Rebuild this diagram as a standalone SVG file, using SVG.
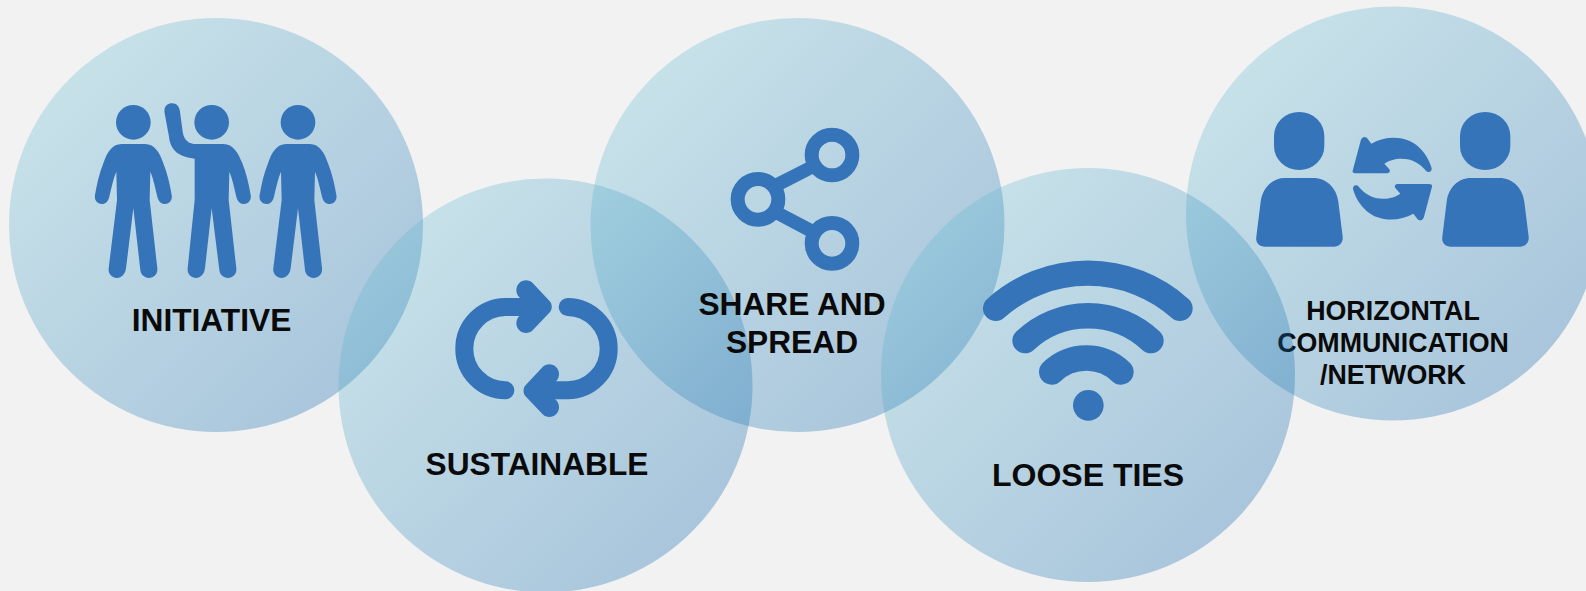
<svg xmlns="http://www.w3.org/2000/svg" width="1586" height="591" viewBox="0 0 1586 591">
<defs>
<linearGradient id="g" x1="0.15" y1="0.15" x2="0.85" y2="0.85"><stop offset="0" stop-color="#5fb9d1"/><stop offset="1" stop-color="#035fa9"/></linearGradient>
<path id="person" d="M125,162H195C225,162 240,190 250,220C262,250 270,285 275,315C278,330 268,342 255,342C243,342 235,333 232,320C226,295 220,265 211,245L209,330L232,535C234,552 222,564 207,564C193,564 182,553 181,540L160,355L138,535C136,552 125,564 111,564C96,564 84,552 86,535L111,330L109,245C100,265 94,295 88,320C85,333 77,342 66,342C52,342 42,330 45,315C50,285 58,250 70,220C80,190 95,162 125,162Z"/>
<g id="user"><rect x="132" y="36" width="151" height="174" rx="75" ry="72"/><path d="M165,234H250C290,234 320,265 325,305L338,410C340,428 328,440 312,440H105C88,440 76,428 79,410L92,305C97,265 125,234 165,234Z"/></g>
<path id="swap" d="M368,212L392,122C396,108 408,108 414,118L424,131C470,105 530,108 565,140C585,158 598,180 605,205C606,215 595,220 588,212C570,190 545,176 515,176C495,176 475,182 463,191L478,208C482,214 478,220 470,220H378C370,220 366,216 368,212Z"/>
<path id="head" d="M238,39C248,28 268,28 278,39L328,92C338,102 338,118 328,128L278,181C268,192 248,192 238,181C226,170 226,150 238,138L266,110L238,82C226,70 226,50 238,39Z"/>
</defs>
<style>
.disc{fill:url(#g);fill-opacity:.3}
.icon{fill:#3574b9}
.line{fill:none;stroke:#3574b9;stroke-linecap:round}
.ring{fill:none;stroke:#3574b9;stroke-width:14}
text{font-family:"Liberation Sans",Arial,sans-serif;font-weight:700;fill:#0a0a0a;text-anchor:middle}
</style>
<rect width="1586" height="591" fill="#f2f2f2"/>
<g id="connectors"/>
<g id="horizontal">
<circle class="disc" cx="1393" cy="213.500" r="207"/>
<g class="icon" transform="translate(1230,100) scale(.33333)"><use href="#user"/><use href="#user" x="558"/><use href="#swap"/><use href="#swap" transform="rotate(180 487 236)"/></g>
<text font-size="26.800" x="1393" y="320">HORIZONTAL</text>
<text font-size="26.800" x="1393" y="352">COMMUNICATION</text>
<text font-size="26.800" x="1393" y="384">/NETWORK</text>
</g>
<g id="initiative">
<circle class="disc" cx="216" cy="225" r="207"/>
<g class="icon" transform="translate(80,90) scale(.33333)">
<circle cx="160" cy="97" r="52"/><use href="#person"/>
<circle cx="395" cy="97" r="52"/>
<path d="M344,206C300,200 272,185 267,140L254,70C250,50 262,40 276,40C290,40 298,50 300,65L308,125C312,150 325,162 350,162H430C460,162 475,190 487,220C499,250 507,285 512,315C515,330 505,342 492,342C480,342 472,333 469,320C463,295 457,265 448,245L446,330L469,535C471,552 459,564 444,564C430,564 419,553 418,540L395,355L375,535C373,552 362,564 348,564C333,564 321,552 323,535L344,330Z"/>
<circle cx="654" cy="97" r="52"/><use href="#person" x="494"/>
</g>
<text font-size="31.700" x="211.500" y="331">INITIATIVE</text>
</g>
<g id="sustainable">
<circle class="disc" cx="545.500" cy="385.500" r="207"/>
<path class="line" stroke-width="18" d="M505.330,390.330A41.670,41.670 0 0 1 505.330,307H533.330M567.670,307A41.670,41.670 0 0 1 567.670,390.330H540"/>
<g transform="translate(440,270) scale(.33333)"><use class="icon" href="#head"/><use class="icon" href="#head" transform="rotate(180 293 236)"/></g>
<text font-size="31.700" x="537" y="475">SUSTAINABLE</text>
</g>
<g id="share">
<circle class="disc" cx="797.500" cy="225" r="207"/>
<path fill="none" stroke="#3574b9" stroke-width="13.330" d="M776.670,185L812.670,166.670M776.670,212.670L813.330,232"/>
<circle class="ring" cx="832" cy="155" r="20.330"/><circle class="ring" cx="832" cy="243.330" r="20.330"/><circle class="ring" cx="758" cy="199.330" r="20.330"/>
<text font-size="31.700" x="792" y="315">SHARE AND</text>
<text font-size="31.700" x="792" y="353">SPREAD</text>
</g>
<g id="loose">
<circle class="disc" cx="1088" cy="375" r="207"/>
<path class="line" stroke-width="25.330" d="M995.670,308.330A138.330,138.330 0 0 1 1180,308.330M1025,340.670A92,92 0 0 1 1151,340.670M1051.670,372A50,50 0 0 1 1121,372"/>
<circle class="icon" cx="1088.330" cy="405.330" r="15.330"/>
<text font-size="32" x="1088" y="486">LOOSE TIES</text>
</g>
</svg>
